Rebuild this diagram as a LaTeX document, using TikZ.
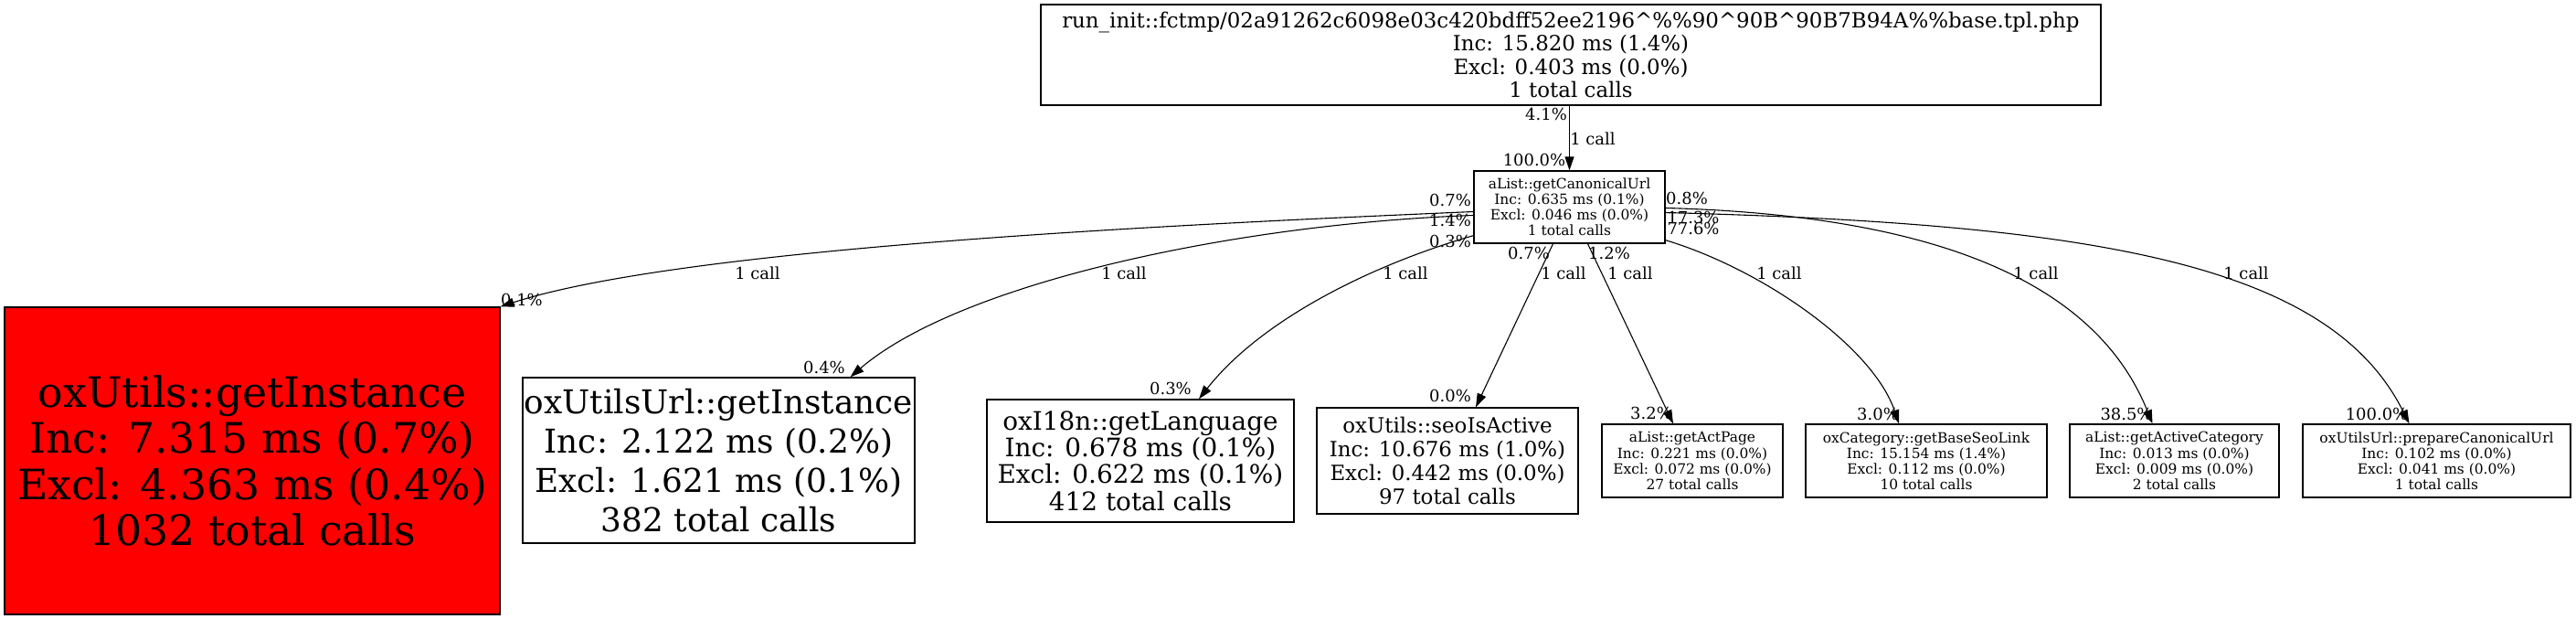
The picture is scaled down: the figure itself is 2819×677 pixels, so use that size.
\documentclass[tikz,border=0pt]{standalone}
\usepackage{fontspec}
\setmainfont{DejaVu Serif}
\usetikzlibrary{arrows.meta}

\tikzset{
	fn/.style={draw, line width=1.3bp, inner sep=0pt, align=center},
	sz/.style 2 args={font=\fontsize{#1}{#2}\selectfont},
	small/.style={fn, sz={15.5}{17.2}, minimum height=80bp},
	lbl/.style={font=\fontsize{18}{18}\selectfont, inner sep=0pt},
	call/.style={-{Triangle[length=15bp,width=10bp]}, line width=1.1bp},
}

\begin{document}
\begin{tikzpicture}[x=1bp, y=-1bp]
		\useasboundingbox (0,0) rectangle (2819,677);

		\node[fn, sz={23}{25.5}, minimum width=1160bp, minimum height=110bp] (init) at (1719,60)
			{run\_init::fctmp/02a91262c6098e03c420bdff52ee2196\textasciicircum\%\%90\textasciicircum 90B\textasciicircum 90B7B94A\%\%base.tpl.php\\Inc: 15.820 ms (1.4\%)\\Excl: 0.403 ms (0.0\%)\\1 total calls};
		\node[small, minimum width=209bp, minimum height=79bp] (canon) at (1717.5,226.5)
			{aList::getCanonicalUrl\\Inc: 0.635 ms (0.1\%)\\Excl: 0.046 ms (0.0\%)\\1 total calls};

		\node[fn, fill=red, sz={46}{50.7}, minimum width=542bp, minimum height=336bp] (getinst) at (276,504)
			{oxUtils::getInstance\\Inc: 7.315 ms (0.7\%)\\Excl: 4.363 ms (0.4\%)\\1032 total calls};
		\node[fn, sz={36}{43}, minimum width=429bp, minimum height=181bp] (urlinst) at (786.5,503.5)
			{oxUtilsUrl::getInstance\\Inc: 2.122 ms (0.2\%)\\Excl: 1.621 ms (0.1\%)\\382 total calls};
		\node[fn, sz={28}{29.4}, minimum width=336bp, minimum height=134bp] (getlang) at (1248,504)
			{oxI18n::getLanguage\\Inc: 0.678 ms (0.1\%)\\Excl: 0.622 ms (0.1\%)\\412 total calls};
		\node[fn, sz={23}{26}, minimum width=286bp, minimum height=116bp] (seoact) at (1584,504)
			{oxUtils::seoIsActive\\Inc: 10.676 ms (1.0\%)\\Excl: 0.442 ms (0.0\%)\\97 total calls};
		\node[small, minimum width=198bp] (actpage) at (1852,504)
			{aList::getActPage\\Inc: 0.221 ms (0.0\%)\\Excl: 0.072 ms (0.0\%)\\27 total calls};
		\node[small, minimum width=264bp] (baseseo) at (2108,504)
			{oxCategory::getBaseSeoLink\\Inc: 15.154 ms (1.4\%)\\Excl: 0.112 ms (0.0\%)\\10 total calls};
		\node[small, minimum width=229bp] (actcat) at (2379.5,504)
			{aList::getActiveCategory\\Inc: 0.013 ms (0.0\%)\\Excl: 0.009 ms (0.0\%)\\2 total calls};
		\node[small, minimum width=293bp] (prepurl) at (2666.5,504)
			{oxUtilsUrl::prepareCanonicalUrl\\Inc: 0.102 ms (0.0\%)\\Excl: 0.041 ms (0.0\%)\\1 total calls};

		\draw[call] (init.south -| canon.north) -- (canon.north);
		\draw[call] ([yshift=-5bp]canon.west) .. controls (1300,245) and (750,270) .. (getinst.north east);
		\draw[call] ([yshift=-9bp]canon.west) .. controls (1350,245) and (1050,310) .. ([xshift=144bp]urlinst.north);
		\draw[call] ([yshift=9bp]canon.south west) .. controls (1500,290) and (1380,350) .. ([xshift=64bp]getlang.north);
		\draw[call] ([xshift=-18bp]canon.south) -- ([xshift=31bp]seoact.north);
		\draw[call] ([xshift=20bp]canon.south) -- ([xshift=-21bp]actpage.north);
		\draw[call] ([yshift=4bp]canon.south east) .. controls (1930,295) and (2050,380) .. ([xshift=-30bp]baseseo.north);
		\draw[call] ([yshift=-1bp]canon.east) .. controls (2100,235) and (2290,300) .. ([xshift=-24bp]actcat.north);
		\draw[call] ([yshift=-6bp]canon.east) .. controls (2300,245) and (2550,290) .. ([xshift=-30bp]prepurl.north);

		\node[lbl] (tinit)    at (1692,125) {4.1\%};
		\node[lbl] (cinit)    at (1743,152) {1 call};
		\node[lbl] (hinit)    at (1679,175) {100.0\%};
		\node[lbl] (tgetinst) at (1587,219) {0.7\%};
		\node[lbl] (turlinst) at (1587,241) {1.4\%};
		\node[lbl] (tgetlang) at (1587,264) {0.3\%};
		\node[lbl] (tseoact)  at (1673,277) {0.7\%};
		\node[lbl] (tactpage) at (1761,277) {1.2\%};
		\node[lbl] (tbaseseo) at (1846,217) {0.8\%};
		\node[lbl] (tactcat)  at (1853,238) {17.3\%};
		\node[lbl] (tprepurl) at (1853,250) {77.6\%};

		\node[lbl] (cgetinst) at (829,299)  {1 call};
		\node[lbl] (curlinst) at (1230,299) {1 call};
		\node[lbl] (cgetlang) at (1538,299) {1 call};
		\node[lbl] (cseoact)  at (1711,299) {1 call};
		\node[lbl] (cactpage) at (1784,299) {1 call};
		\node[lbl] (cbaseseo) at (1947,299) {1 call};
		\node[lbl] (cactcat)  at (2228,299) {1 call};
		\node[lbl] (cprepurl) at (2458,299) {1 call};

		\node[lbl] (hgetinst) at (571,328)  {0.1\%};
		\node[lbl] (hurlinst) at (902,402)  {0.4\%};
		\node[lbl] (hgetlang) at (1281,425) {0.3\%};
		\node[lbl] (hseoact)  at (1587,433) {0.0\%};
		\node[lbl] (hactpage) at (1807,452) {3.2\%};
		\node[lbl] (hbaseseo) at (2055,453) {3.0\%};
		\node[lbl] (hactcat)  at (2327,453) {38.5\%};
		\node[lbl] (hprepurl) at (2601,453) {100.0\%};
	\end{tikzpicture}
\end{document}
